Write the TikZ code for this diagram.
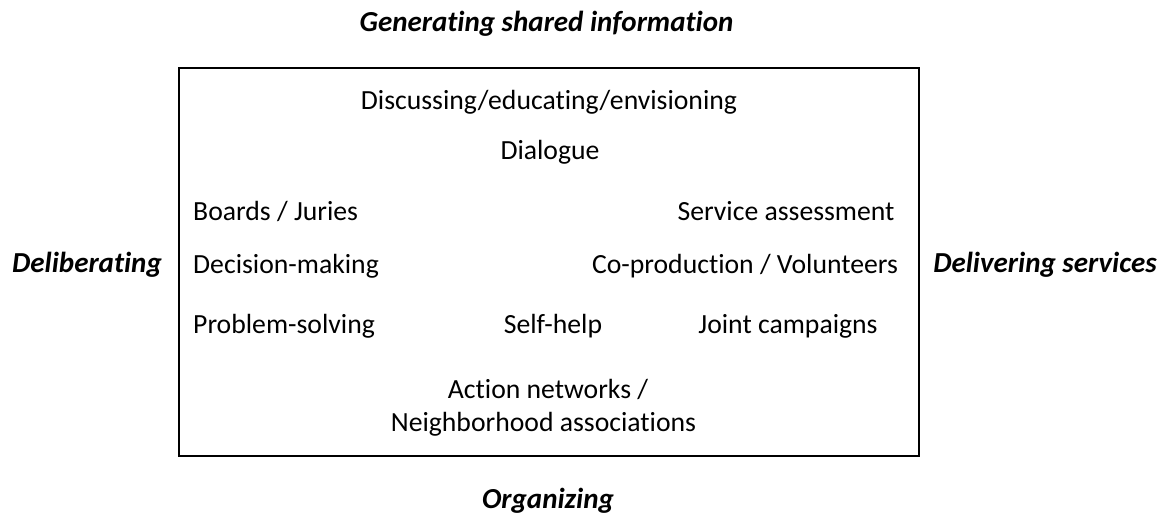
\documentclass[tikz,border=0pt]{standalone}
\usepackage{fontspec}
\setmainfont[Ligatures=NoCommon]{Carlito}
\begin{document}
\begin{tikzpicture}[x=1pt,y=-1pt,
  lbl/.style={font=\fontsize{27.7}{33}\selectfont, inner sep=0pt, anchor=base},
  lblw/.style={lbl, anchor=base west},
  head/.style={lbl, font=\fontsize{29}{34}\selectfont\bfseries\itshape},
  frame/.style={draw=black, line width=2pt}]
\useasboundingbox (0,0) rectangle (1164,516);
\node[frame, minimum width=740pt, minimum height=387pt, inner sep=0pt, anchor=north west] (box) at (178,67.5) {};
\node[head] (gen) at (546.5,32) {Generating shared information};
\node[head] (delib) at (87,272) {Deliberating};
\node[head] (deliv) at (1045,272) {Delivering services};
\node[head] (org) at (548,508) {Organizing};
\node[lbl] (disc) at (549,110) {Discussing/educating/envisioning};
\node[lbl] (dial) at (550,160) {Dialogue};
\node[lblw] (boards) at (193,220) {Boards / Juries};
\node[lbl] (serv) at (786,220) {Service assessment};
\node[lblw] (dec) at (193,273) {Decision-making};
\node[lbl] (coprod) at (745,273) {Co-production / Volunteers};
\node[lblw] (prob) at (193,333) {Problem-solving};
\node[lbl] (self) at (553,333) {Self-help};
\node[lbl] (joint) at (788,333) {Joint campaigns};
\node[lbl] (act) at (548,398) {Action networks /};
\node[lbl] (neigh) at (543.5,431) {Neighborhood associations};
\end{tikzpicture}
\end{document}
